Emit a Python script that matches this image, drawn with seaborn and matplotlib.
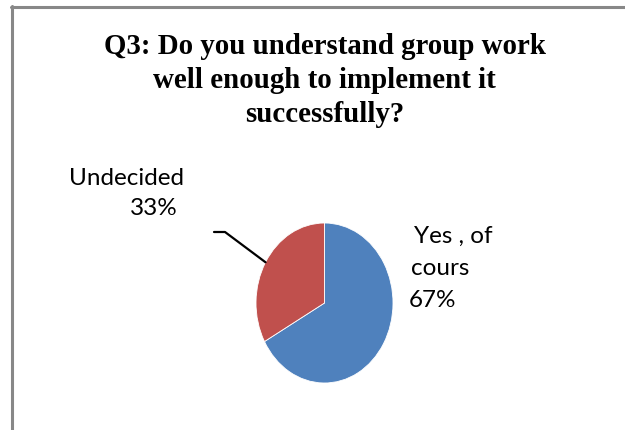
import matplotlib
matplotlib.use("Agg")
import matplotlib.pyplot as plt
from matplotlib.lines import Line2D
import numpy as np
import seaborn as sns

# Survey answers for Q3
categories = ["Yes , of cours", "Undecided"]
shares = [67, 33]
colors = ["#4F81BD", "#C0504D"]
title_lines = ["Q3: Do you understand group work",
               "well enough to implement it",
               "successfully?"]

sns.set_theme(style="white")
plt.rcParams["font.family"] = ["Lato", "DejaVu Sans"]

W, H = 625, 430
fig = plt.figure(figsize=(W / 100, H / 100), dpi=100)
fig.patch.set_facecolor("white")

# pie axes: stretched box so the pie is drawn as an upright ellipse
cx, cy, rx, ry = 324.5, 303.0, 68.5, 80.0
ax = fig.add_axes([(cx - rx) / W, (H - cy - ry) / H, 2 * rx / W, 2 * ry / H])
wedges, _ = ax.pie(shares, colors=colors, startangle=90, counterclock=False,
                   radius=1.0, wedgeprops=dict(edgecolor="white", linewidth=0.6))
ax.set_aspect("auto")
ax.set_xlim(-1, 1)
ax.set_ylim(-1, 1)
ax.axis("off")


def px_text(x, baseline, s, **kw):
    """Place text with its baseline at a pixel row counted from the top."""
    fig.text(x / W, 1 - baseline / H, s, va="baseline", color="black", **kw)


# title, one centred row per line
for line, base in zip(title_lines, [54, 88, 122]):
    px_text(cx, base, line, ha="center", fontsize=20.8, fontweight="bold",
            family=["Liberation Serif"])

# data labels
lab_fs = 17.5
px_text(184, 185, categories[1], ha="right", fontsize=lab_fs)
px_text(178, 215, f"{shares[1]}%", ha="right", fontsize=lab_fs)

yes_words = categories[0].split(" ")
px_text(414, 243, " ".join(yes_words[:3]), ha="left", fontsize=lab_fs)
px_text(411, 275, yes_words[3], ha="left", fontsize=lab_fs)
px_text(409, 307, f"{shares[0]}%", ha="left", fontsize=lab_fs)

# leader line from the Undecided label to the middle of its wedge
w = wedges[1]
mid = np.deg2rad((w.theta1 + w.theta2) / 2)
ex, ey = ax.transData.transform((np.cos(mid), np.sin(mid)))
fig.add_artist(Line2D([214, 225, ex], [H - 232, H - 232, ey],
                      transform=None, color="black", linewidth=1.6))

# chart frame (top and left edges)
frame = "#888888"
fig.add_artist(Line2D([10.5, W], [H - 6.5, H - 6.5], transform=None, color=frame, linewidth=2.2))
fig.add_artist(Line2D([11.5, 11.5], [0, H - 5.5], transform=None, color=frame, linewidth=2.2))

fig.savefig("out.png", dpi=100, facecolor="white")
